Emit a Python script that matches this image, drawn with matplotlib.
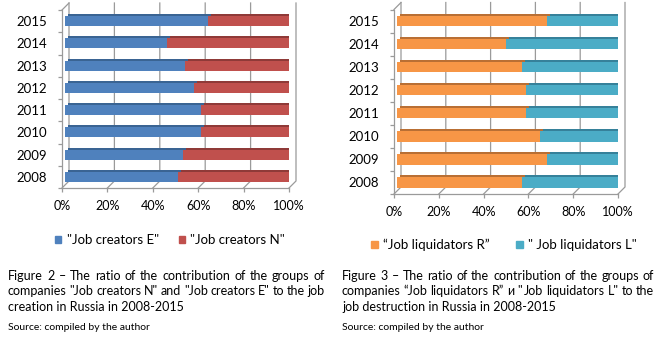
import numpy as np
import matplotlib
matplotlib.use("Agg")
import matplotlib.pyplot as plt
from matplotlib.patches import Patch

years = ["2008", "2009", "2010", "2011", "2012", "2013", "2014", "2015"]
creators_e = [50, 52, 60, 60, 57, 53, 45, 63]
creators_n = [100 - v for v in creators_e]
liquidators_r = [56, 67, 64, 58, 58, 56, 49, 67]
liquidators_l = [100 - v for v in liquidators_r]
x_ticks = [0, 20, 40, 60, 80, 100]
x_labels = ["0%", "20%", "40%", "60%", "80%", "100%"]

plt.rcParams["font.family"] = ["Lato", "DejaVu Sans"]

W, H = 662, 342
fig = plt.figure(figsize=(W / 100, H / 100), dpi=100)
GRID = "#9a9a9a"


def chart(rect_px, first, second, c1, c2, d1, d2):
    x0, top, x1, bot = rect_px
    ax = fig.add_axes([x0 / W, 1 - bot / H, (x1 - x0) / W, (bot - top) / H])
    n = len(years)
    ax.set_xlim(0, 100)
    ax.set_ylim(-0.5, n - 0.5)
    px_x = (x1 - x0) / 100.0          # pixels per percent
    px_y = (bot - top) / n            # pixels per category
    ox, oy = 7 / px_x, 7 / px_y       # depth of the back wall
    bx, by = 3 / px_x, 2 / px_y       # depth of a bar
    shift = 2.5 / px_x
    y = np.arange(n)
    yb, yt = -0.5, n - 0.5

    # back wall grid with slanted floor links
    for v in x_ticks:
        ax.plot([v, v + ox, v + ox], [yb, yb + oy, yt + oy], color=GRID,
                lw=0.9, clip_on=False, zorder=1)
    ax.plot([0, ox], [yt, yt + oy], color=GRID, lw=0.9, clip_on=False, zorder=1)

    first = np.array(first, float)
    second = np.array(second, float)
    h = 0.45
    # dark depth faces
    ax.barh(y + by, first, left=shift + bx, height=h, color=d1, zorder=2)
    ax.barh(y + by, second, left=shift + bx + first, height=h, color=d2, zorder=2)
    # front faces
    ax.barh(y, first, left=shift, height=h, color=c1, zorder=3)
    ax.barh(y, second, left=shift + first, height=h, color=c2, zorder=3)

    for s in ["top", "right"]:
        ax.spines[s].set_visible(False)
    for s in ["left", "bottom"]:
        ax.spines[s].set_color(GRID)
        ax.spines[s].set_linewidth(0.9)
    ax.set_xticks(x_ticks)
    ax.set_xticklabels(x_labels)
    ax.set_yticks(y)
    ax.set_yticklabels(years)
    ax.set_yticks(np.arange(-0.5, n, 1.0), minor=True)
    ax.tick_params(axis="x", length=3, color=GRID, width=0.9, pad=6,
                   labelsize=9)
    ax.tick_params(axis="y", which="major", length=0, pad=11, labelsize=9.5)
    ax.tick_params(axis="y", which="minor", length=3, color=GRID, width=0.9)
    ax.set_facecolor("none")
    return ax


chart((62, 10, 289, 188), creators_e, creators_n,
      "#4f81bd", "#c0504d", "#3a6493", "#8f3a38")
chart((394, 9.5, 618, 194), liquidators_r, liquidators_l,
      "#f79646", "#4bacc6", "#b96f34", "#36819a")

leg_kw = dict(loc="center", ncol=2, frameon=False, fontsize=9.5,
              handlelength=0.5, handleheight=0.5, handletextpad=0.4)
fig.legend([Patch(color="#4f81bd"), Patch(color="#c0504d")],
           ['"Job creators E"', '"Job creators N"'],
           bbox_to_anchor=(170 / W, 1 - 240 / H), columnspacing=1.5, **leg_kw)
fig.legend([Patch(color="#f79646"), Patch(color="#4bacc6")],
           ['\u201cJob liquidators R\u201d', '" Job liquidators L"'],
           bbox_to_anchor=(504 / W, 1 - 245 / H), columnspacing=2.0, **leg_kw)


def caption(lines, x0, x1, ys, size=9.0):
    r = fig.canvas.get_renderer()
    for i, line in enumerate(lines):
        yy = 1 - ys[i] / H
        if i == len(lines) - 1:
            fig.text(x0 / W, yy, line, fontsize=size, va="center")
            continue
        words = line.split()
        ts = [fig.text(0, yy, w, fontsize=size, va="center") for w in words]
        ws = [t.get_window_extent(r).width / fig.bbox.width for t in ts]
        gap = ((x1 - x0) / W - sum(ws)) / (len(words) - 1)
        x = x0 / W
        for t, w in zip(ts, ws):
            t.set_x(x)
            x += w + gap


caption(["Figure 2 \u2013 The ratio of the contribution of the groups of",
         'companies "Job creators N" and "Job creators E" to the job',
         "creation in Russia in 2008-2015"], 8, 325, [276, 291, 307])
caption(["Figure 3 \u2013 The ratio of the contribution of the groups of",
         'companies \u201cJob liquidators R\u201d  \u0438  " Job liquidators L" to the',
         "job destruction in Russia in 2008-2015"], 342, 654, [276, 291, 307])
fig.text(8 / W, 1 - 328 / H, "Source: compiled by the author", fontsize=7.5,
         va="center")
fig.text(342 / W, 1 - 328 / H, "Source: compiled by the author", fontsize=7.5,
         va="center")

fig.savefig("out.png", dpi=100)
